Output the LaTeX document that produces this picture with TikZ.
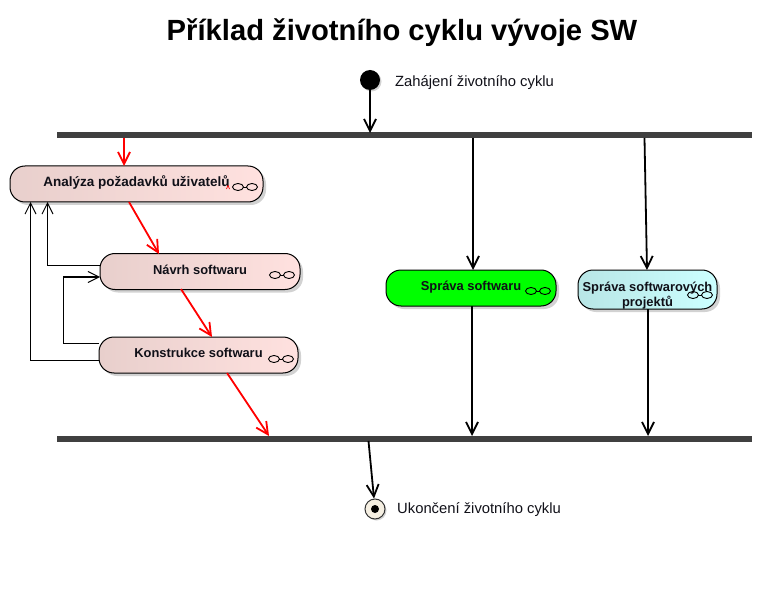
\documentclass[tikz,border=0pt]{standalone}
\usepackage{fontspec}
\setmainfont{Liberation Sans}
\usetikzlibrary{arrows.meta,shadows}
\definecolor{inktext}{HTML}{101018}
\definecolor{pinkdark}{HTML}{E8CFCC}
\definecolor{pinklight}{HTML}{FFE1DF}
\definecolor{cyandark}{HTML}{B8E6E6}
\definecolor{cyanlight}{HTML}{CCFFFF}
\definecolor{capfill}{HTML}{F5EFE2}
\tikzset{
  activity/.style={draw=black, line width=1pt, rounded corners=15pt, minimum height=36pt,
    inner sep=1pt, text=inktext, align=center, text height=9pt, text depth=4pt,
    font=\bfseries\fontsize{12.9}{15}\selectfont, drop shadow={shadow xshift=3pt, shadow yshift=-3pt, fill=black!35}},
  pinkbox/.style={activity, left color=pinkdark, middle color=pinklight, right color=pinklight},
  forkbar/.style={fill=black!75, minimum width=695pt, minimum height=6pt, inner sep=0pt},
  caption/.style={anchor=west, inner sep=0pt, text=inktext, font=\fontsize{14.8}{16}\selectfont},
  flow/.style={-{Straight Barb[length=12pt,width=12pt,line width=1.8pt]}, line width=1.8pt, black},
  flowred/.style={flow, red},
  back/.style={-{Straight Barb[length=11pt,width=11pt,line width=1pt]}, line width=1.1pt, black},
  rake/.pic={
    \draw[black, line width=0.9pt] (-2,0) -- (2,0);
    \draw[black, line width=0.9pt] (-7,0) ellipse [x radius=5.5pt, y radius=3.5pt];
    \draw[black, line width=0.9pt] (7,0) ellipse [x radius=5.5pt, y radius=3.5pt];
  }
}
\begin{document}
\begin{tikzpicture}[x=1pt, y=-1pt]
  \useasboundingbox (0,0) rectangle (763,596);

  % Title
  \node[inner sep=0pt, font=\bfseries\fontsize{29.2}{32}\selectfont] (title) at (402,33) {Příklad životního cyklu vývoje SW};

  % Start and end
  \node[circle, fill=black, minimum size=20pt, inner sep=0pt, drop shadow={shadow xshift=1.5pt, shadow yshift=-1.5pt, fill=black!35}] (start) at (370,80) {};
  \node[caption] (startlabel) at (395,83) {Zahájení životního cyklu};
  \node[circle, draw=black!80, line width=1pt, fill=capfill, minimum size=20pt, inner sep=0pt, drop shadow={shadow xshift=1.5pt, shadow yshift=-1.5pt, fill=black!35}] (finish) at (375,509) {};
  \node[circle, fill=black, minimum size=8pt, inner sep=0pt] (finishdot) at (finish.center) {};
  \node[caption] (finishlabel) at (397,510) {Ukončení životního cyklu};

  % Fork and join bars
  \node[forkbar] (fork) at (404.5,135.5) {};
  \node[forkbar] (join) at (404.5,438.5) {};

  % Activities
  \node[pinkbox, minimum width=253pt, font=\bfseries\fontsize{13.5}{15}\selectfont] (analysis) at (136.5,184) {Analýza požadavků uživatelů};
  \node[pinkbox, minimum width=200pt] (design) at (200,271.5) {Návrh softwaru};
  \node[pinkbox, minimum width=199pt] (build) at (198.5,355) {Konstrukce softwaru};
  \node[activity, fill=green, minimum width=170pt] (swmgmt) at (471,288) {Správa softwaru};
  \node[activity, left color=cyandark, middle color=cyanlight, right color=cyanlight, minimum width=139pt, minimum height=39pt, text height=34pt, text depth=0pt] (projmgmt) at (647.5,289.5) {Správa softwarových\\projektů};

  % Rake icons
  \pic at (245,187) {rake};
  \pic at (282,275) {rake};
  \pic at (281,359) {rake};
  \pic at (538,291) {rake};
  \pic at (700,295) {rake};
  \draw[red, line width=0.7pt] (226.5,189) -- (228,185.5) -- (229.5,189);

  % Free ends of the connectors
  \coordinate (forkA) at (124,138);
  \coordinate (analysisIn) at (124,166);
  \coordinate (analysisOut) at (129,202);
  \coordinate (designIn) at (159,254);
  \coordinate (designOut) at (181,289);
  \coordinate (buildIn) at (212,337);
  \coordinate (buildOut) at (227,373);
  \coordinate (joinA) at (269,436);
  \coordinate (forkB) at (473,138);
  \coordinate (swIn) at (473,270);
  \coordinate (forkC) at (644.5,138);
  \coordinate (projIn) at (647,270);
  \coordinate (swOut) at (472,306);
  \coordinate (joinB) at (472,436);
  \coordinate (projOut) at (648,309);
  \coordinate (joinC) at (648,436);
  \coordinate (joinD) at (368.5,441);
  \coordinate (finishIn) at (374,498.5);
  \coordinate (forkD) at (370,133);
  \coordinate (analysisBackA) at (47.5,202);
  \coordinate (analysisBackB) at (30.5,202);
  \coordinate (designLeft) at (100,265.5);
  \coordinate (designBack) at (100,277);
  \coordinate (buildLeftA) at (99,343.5);
  \coordinate (buildLeftB) at (99,360.5);

  % Control flow
  \draw[flow] (start) -- (forkD);
  \draw[flowred] (forkA) -- (analysisIn);
  \draw[flowred] (analysisOut) -- (designIn);
  \draw[flowred] (designOut) -- (buildIn);
  \draw[flowred] (buildOut) -- (joinA);
  \draw[flow] (forkB) -- (swIn);
  \draw[flow] (forkC) -- (projIn);
  \draw[flow] (swOut) -- (joinB);
  \draw[flow] (projOut) -- (joinC);
  \draw[flow] (joinD) -- (finishIn);

  % Feedback
  \draw[back] (designLeft) -- (47.5,265.5) -- (analysisBackA);
  \draw[back] (buildLeftA) -- (63.5,343.5) -- (63.5,277) -- (designBack);
  \draw[back] (buildLeftB) -- (30.5,360.5) -- (analysisBackB);
\end{tikzpicture}
\end{document}
